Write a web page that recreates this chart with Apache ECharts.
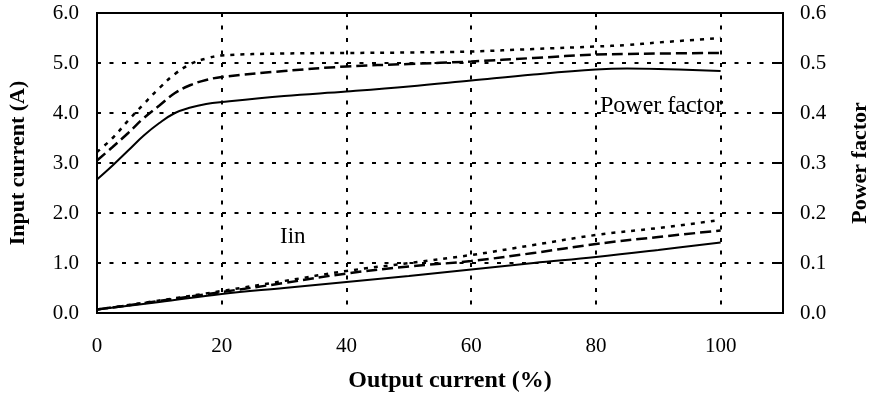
<!DOCTYPE html>
<html><head><meta charset="utf-8">
<script src="https://cdn.jsdelivr.net/npm/echarts@6/dist/echarts.min.js"></script>
<style>html,body{margin:0;padding:0;background:#fff}#c{width:873px;height:401px}</style>
</head><body><div id="c"></div>
<script>
const xTicks = [0, 20, 40, 60, 80, 100];
const pfX = [0, 2.5, 5, 7.5, 10, 12.5, 15, 17.5, 20, 30, 40, 50, 60, 70, 80, 85, 90, 100];
const pfSolid  = [0.267, 0.295, 0.325, 0.355, 0.380, 0.400, 0.411, 0.418, 0.422, 0.434, 0.443, 0.453, 0.465, 0.477, 0.487, 0.489, 0.488, 0.484];
const pfDashed = [0.305, 0.332, 0.360, 0.390, 0.415, 0.440, 0.456, 0.466, 0.472, 0.484, 0.493, 0.498, 0.503, 0.510, 0.517, 0.518, 0.519, 0.520];
const pfDotted = [0.322, 0.350, 0.385, 0.418, 0.450, 0.478, 0.498, 0.509, 0.515, 0.519, 0.520, 0.521, 0.523, 0.528, 0.533, 0.536, 0.541, 0.550];
const iinX = [0, 10, 20, 30, 40, 50, 60, 70, 80, 90, 100];
const iinSolid  = [0.07, 0.22, 0.38, 0.50, 0.62, 0.74, 0.87, 1.00, 1.12, 1.26, 1.41];
const iinDashed = [0.07, 0.24, 0.42, 0.60, 0.79, 0.93, 1.04, 1.20, 1.38, 1.52, 1.65];
const iinDotted = [0.07, 0.25, 0.44, 0.64, 0.84, 1.00, 1.16, 1.36, 1.56, 1.70, 1.86];

const FONT = 'Liberation Serif, "Times New Roman", serif';
const zip = (xs, ys) => xs.map((x, i) => [x, ys[i]]);
const styles = {
  solid:  {type: 'solid', width: 2},
  dashed: {type: [11, 5], width: 2.5},
  dotted: {type: [4, 6], width: 2.5}
};
function mk(name, xs, ys, st, axis) {
  return {name, type: 'line', yAxisIndex: axis, data: zip(xs, ys), showSymbol: false, smooth: 0.4,
    lineStyle: Object.assign({color: '#000'}, styles[st]), animation: false, z: 5};
}
const chart = echarts.init(document.getElementById('c'), null, {renderer: 'canvas'});
chart.setOption({
  backgroundColor: '#fff',
  animation: false,
  grid: {left: 97, right: 90, top: 13, bottom: 88, containLabel: false, outerBoundsMode: 'none',
    show: true, borderColor: '#000', borderWidth: 2, backgroundColor: 'transparent'},
  xAxis: {type: 'value', min: 0, max: 110, interval: 20,
    name: 'Output current (%)', nameLocation: 'middle', nameGap: 56,
    nameTextStyle: {fontFamily: FONT, fontSize: 24, fontWeight: 'bold', color: '#000', padding: [0, 0, 0, 20]},
    axisLine: {lineStyle: {color: '#000', width: 2}}, axisTick: {show: false},
    axisLabel: {fontFamily: FONT, fontSize: 21, color: '#000', margin: 23,
      formatter: v => xTicks.includes(v) ? String(v) : ''},
    splitLine: {show: true, lineStyle: {color: '#000', type: [4, 8.5], width: 2}}},
  yAxis: [
    {type: 'value', min: 0, max: 6, interval: 1, position: 'left',
      name: 'Input current (A)', nameLocation: 'middle', nameGap: 68, nameRotate: 90,
      nameTextStyle: {fontFamily: FONT, fontSize: 22, fontWeight: 'bold', color: '#000'},
      axisLine: {show: true, lineStyle: {color: '#000', width: 2}}, axisTick: {show: false},
      axisLabel: {fontFamily: FONT, fontSize: 21, color: '#000', margin: 18, formatter: v => v.toFixed(1)},
      splitLine: {show: true, lineStyle: {color: '#000', type: [4, 8.5], width: 2}}},
    {type: 'value', min: 0, max: 0.6, interval: 0.1, position: 'right',
      name: 'Power factor', nameLocation: 'middle', nameGap: 66, nameRotate: 90,
      nameTextStyle: {fontFamily: FONT, fontSize: 22, fontWeight: 'bold', color: '#000'},
      axisLine: {show: true, lineStyle: {color: '#000', width: 2}},
      axisTick: {show: true, inside: true, length: 7, lineStyle: {color: '#000', width: 2}},
      axisLabel: {fontFamily: FONT, fontSize: 21, color: '#000', margin: 17, formatter: v => v.toFixed(1)},
      splitLine: {show: false}}
  ],
  graphic: [
    {type: 'text', left: 600, top: 94, style: {text: 'Power factor', font: '24px ' + FONT, fill: '#000'}},
    {type: 'text', left: 280, top: 225, style: {text: 'Iin', font: '23px ' + FONT, fill: '#000'}}
  ],
  series: [
    mk('PF solid', pfX, pfSolid, 'solid', 1),
    mk('PF dashed', pfX, pfDashed, 'dashed', 1),
    mk('PF dotted', pfX, pfDotted, 'dotted', 1),
    mk('Iin solid', iinX, iinSolid, 'solid', 0),
    mk('Iin dashed', iinX, iinDashed, 'dashed', 0),
    mk('Iin dotted', iinX, iinDotted, 'dotted', 0)
  ]
});
</script></body></html>
